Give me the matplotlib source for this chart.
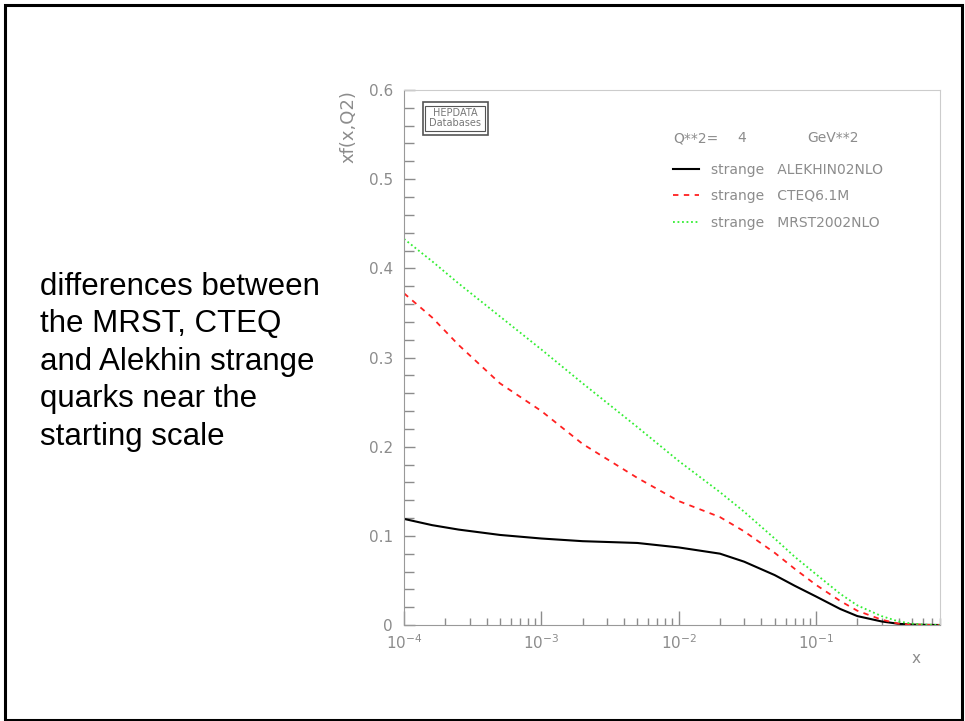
import numpy as np
import matplotlib
matplotlib.use("Agg")
import matplotlib.pyplot as plt
from matplotlib.patches import Rectangle
from matplotlib.ticker import LogLocator, MultipleLocator, NullFormatter

# --- data ---
x = [1e-4, 1.6e-4, 2.5e-4, 5e-4, 1e-3, 2e-3, 5e-3, 1e-2, 2e-2, 3e-2,
     5e-2, 7e-2, 0.1, 0.15, 0.2, 0.3, 0.4, 0.5, 0.6, 0.8]
alekhin = [0.119, 0.112, 0.107, 0.101, 0.097, 0.094, 0.092, 0.087, 0.080, 0.071,
           0.056, 0.044, 0.032, 0.018, 0.010, 0.004, 0.0013, 0.0005, 0.0002, 0.0]
cteq = [0.372, 0.345, 0.314, 0.271, 0.240, 0.203, 0.165, 0.139, 0.121, 0.105,
        0.081, 0.063, 0.045, 0.027, 0.016, 0.006, 0.0015, 0.0005, 0.0002, 0.0]
mrst = [0.433, 0.408, 0.383, 0.346, 0.309, 0.271, 0.222, 0.184, 0.149, 0.127,
        0.097, 0.0765, 0.057, 0.035, 0.022, 0.010, 0.004, 0.0015, 0.0005, 0.0]

labels = ["strange   ALEKHIN02NLO", "strange   CTEQ6.1M", "strange   MRST2002NLO"]
header = ["Q**2=", "4", "GeV**2"]
side_lines = ["differences between", "the MRST, CTEQ", "and Alekhin strange",
              "quarks near the", "starting scale"]

grey = "#8c8c8c"

fig = plt.figure(figsize=(9.65, 7.21), dpi=100)

# slide frame
fig.patches.append(Rectangle((4.5 / 965, 1.5 / 721), 957 / 965, 715 / 721,
                             transform=fig.transFigure, fill=False,
                             edgecolor="black", linewidth=2.2))

# text on the left of the slide
for i, line in enumerate(side_lines):
    fig.text(40 / 965, 1 - (295 + 37.5 * i) / 721, line, family="Liberation Sans",
             fontsize=22.5, ha="left", va="baseline", color="black")

ax = fig.add_axes([404 / 965, 96 / 721, 536 / 965, 535 / 721])

ax.plot(x, alekhin, color="black", lw=1.5, label=labels[0])
ax.plot(x, cteq, color="#ff2020", lw=1.3, ls=(0, (3, 3)), label=labels[1])
ax.plot(x, mrst, color="#33ee33", lw=1.3, ls=(0, (1, 1.5)), label=labels[2])

ax.set_xscale("log")
ax.set_xlim(1e-4, 0.8)
ax.set_ylim(0, 0.6)

ax.xaxis.set_major_locator(LogLocator(base=10, numticks=10))
ax.xaxis.set_minor_locator(LogLocator(base=10, subs=np.arange(2, 10), numticks=20))
ax.xaxis.set_minor_formatter(NullFormatter())
ax.yaxis.set_minor_locator(MultipleLocator(0.02))
ax.set_yticks([0, 0.1, 0.2, 0.3, 0.4, 0.5, 0.6])
ax.set_yticklabels(["0", "0.1", "0.2", "0.3", "0.4", "0.5", "0.6"])

ax.tick_params(which="both", direction="in", colors=grey, labelcolor=grey,
               labelsize=11, width=1)
ax.tick_params(axis="y", which="major", length=8, pad=8)
ax.tick_params(axis="y", which="minor", length=7)
ax.tick_params(axis="x", which="major", length=10, pad=6)
ax.tick_params(axis="x", which="minor", length=5)
for side in ["left", "bottom"]:
    ax.spines[side].set_color("#999999")
for side in ["top", "right"]:
    ax.spines[side].set_color("#cccccc")

ax.set_ylabel("xf(x,Q2)", loc="top", fontsize=13, color=grey)
ax.yaxis.set_label_coords(-0.086, 1.0)
ax.text(0.955, -0.063, "x", transform=ax.transAxes, fontsize=11, color=grey,
        ha="center", va="center")

# HEPDATA stamp
ax.add_patch(Rectangle((0.0354, 0.916), 0.121, 0.062, transform=ax.transAxes,
                       fill=False, edgecolor="#555555", lw=1.2))
ax.add_patch(Rectangle((0.0400, 0.923), 0.112, 0.048, transform=ax.transAxes,
                       fill=False, edgecolor="#555555", lw=0.8))
ax.text(0.096, 0.947, "HEPDATA\nDatabases", transform=ax.transAxes, fontsize=7,
        color="#777777", ha="center", va="center", linespacing=1.0)

# legend header
for txt, hx in zip(header, [0.502, 0.621, 0.752]):
    ax.text(hx, 0.910, txt, transform=ax.transAxes, fontsize=10, color=grey,
            ha="left", va="center")

leg = ax.legend(loc="upper left", bbox_to_anchor=(0.502, 0.864), frameon=False,
                fontsize=10, handlelength=1.87, handletextpad=0.86,
                labelspacing=0.9, borderpad=0, borderaxespad=0)
for t in leg.get_texts():
    t.set_color(grey)

fig.savefig("out.png", dpi=100)
